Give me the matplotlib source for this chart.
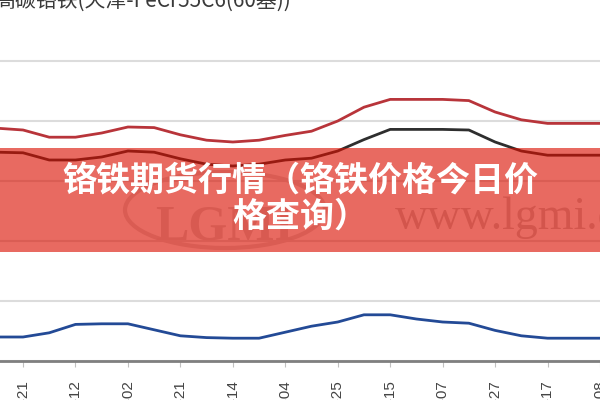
import numpy as np
import matplotlib.pyplot as plt
from matplotlib.patches import Rectangle, Ellipse

plt.rcParams['font.family'] = ['Liberation Sans', 'Noto Sans CJK SC', 'DejaVu Sans']

# tick dates (only the tail of each label shows in the picture)
dates = ["2017-03-21", "2017-04-12", "2017-05-02", "2017-05-21", "2017-06-14", "2017-07-04",
         "2017-07-25", "2017-08-15", "2017-09-07", "2017-09-27", "2017-10-17", "2017-11-08"]

# half-tick sample positions
x_pos = np.arange(-0.5, 11.25, 0.5)

price_red = [8880, 8850, 8730, 8730, 8800, 8900, 8890, 8770, 8680, 8650, 8680, 8760,
             8830, 9000, 9230, 9360, 9360, 9360, 9340, 9150, 9020, 8960, 8960, 8960]
price_black = [8480, 8470, 8350, 8350, 8400, 8500, 8480, 8370, 8280, 8250, 8280, 8350,
               8380, 8500, 8690, 8860, 8860, 8860, 8850, 8650, 8500, 8430, 8430, 8430]
price_blue = [5400, 5400, 5470, 5610, 5620, 5620, 5520, 5420, 5390, 5380, 5380, 5480,
              5580, 5650, 5770, 5770, 5700, 5650, 5630, 5510, 5420, 5380, 5380, 5380]

title_txt = "高碳铬铁(天津-FeCr55C6(60基))"
banner_line1 = "铬铁期货行情（铬铁价格今日价"
banner_line2 = "格查询）"

fig = plt.figure(figsize=(6, 4), dpi=100)
ax = fig.add_axes([0, 0.0975, 1, 0.7725])

ax.plot(x_pos, price_red, color="#b8343a", lw=2, solid_joinstyle="round", zorder=3)
ax.plot(x_pos, price_black, color="#2e2e2e", lw=2, solid_joinstyle="round", zorder=3)
ax.plot(x_pos, price_blue, color="#234a96", lw=2, solid_joinstyle="round", zorder=3)

ax.set_xlim(-23.3 / 53.07, (600 - 23.3) / 53.07)
ax.set_ylim(5000, 10150)
ax.set_yticks([5000, 6000, 7000, 8000, 9000, 10000])
ax.grid(axis="y", color="#dcdcdc", lw=1.5)
ax.set_axisbelow(True)

ax.set_xticks(range(len(dates)))
ax.set_xticklabels(dates, rotation=90, fontsize=11, color="#444444")
ax.tick_params(axis="x", length=4, color="#c0c0c0", pad=10)
ax.tick_params(axis="y", left=False, labelleft=False)
for s in ["left", "right", "top"]:
    ax.spines[s].set_visible(False)
ax.spines["bottom"].set_color("#7f7f7f")
ax.spines["bottom"].set_linewidth(2)

# faint watermark of the source site
fig.text(395 / 600, 1 - 229 / 400, "www.lgmi.com", family="Liberation Serif",
         fontsize=33, color="#c8c8c8", ha="left", va="baseline", zorder=1)
fig.text(225 / 600, 1 - 240 / 400, "LGMI", family="Liberation Serif", fontsize=36,
         fontweight="bold", color="#d6d6d6", ha="center", va="baseline", zorder=1)
fig.patches.append(Ellipse((225 / 600, 1 - 210 / 400), 200 / 600, 76 / 400,
                           transform=fig.transFigure, fill=False, ec="#dadada", lw=3, zorder=1))

# title, mostly cut off at the top
fig.text(292 / 600, 1 - 8 / 400, title_txt, fontsize=15, color="#3a3a3a",
         family=['Noto Sans CJK SC', 'DejaVu Sans'], ha="right", va="baseline")

# red banner
fig.patches.append(Rectangle((0, 1 - 252 / 400), 1, 104 / 400, transform=fig.transFigure,
                             color=(0.855, 0.06, 0.0), alpha=0.62, lw=0, zorder=5))
fig.text(0.5, 1 - 181 / 400, banner_line1, fontsize=24.5, fontweight=900, color="white",
         family=['Noto Sans CJK SC'], ha="center", va="center", zorder=6)
fig.text(0.5, 1 - 216 / 400, banner_line2, fontsize=24.5, fontweight=900, color="white",
         family=['Noto Sans CJK SC'], ha="center", va="center", zorder=6)

fig.savefig("out.png", dpi=100)
